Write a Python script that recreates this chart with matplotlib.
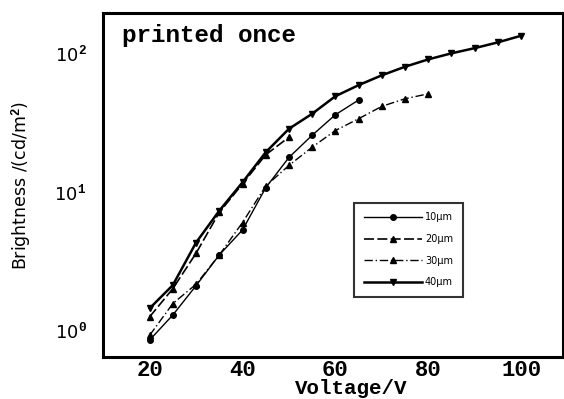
"""Brightness vs voltage for printed-once layers of different thickness."""

import matplotlib

matplotlib.use("Agg")
import matplotlib.pyplot as plt  # noqa: E402

plt.rcParams["mathtext.fontset"] = "custom"
plt.rcParams["mathtext.rm"] = "Liberation Mono:bold"
plt.rcParams["mathtext.it"] = "Liberation Mono:bold"
plt.rcParams["mathtext.bf"] = "Liberation Mono:bold"

# data (V, cd/m^2)
v_10um = [20, 25, 30, 35, 40, 45, 50, 55, 60, 65]
b_10um = [0.85, 1.29, 2.1, 3.5, 5.3, 10.7, 17.7, 25.6, 36, 46]

v_20um = [20, 25, 30, 35, 40, 45, 50]
b_20um = [1.25, 2.0, 3.6, 7.1, 11.4, 18.5, 24.8]

v_30um = [20, 25, 30, 35, 40, 45, 50, 55, 60, 65, 70, 75, 80]
b_30um = [0.92, 1.56, 2.15, 3.5, 6.0, 11.0, 15.5, 21.0, 27.7, 33.7, 41.4, 47.0, 51.0]

v_40um = [20, 25, 30, 35, 40, 45, 50, 55, 60, 65, 70, 75, 80, 85, 90, 95, 100]
b_40um = [1.44, 2.12, 4.3, 7.3, 11.7, 19.3, 28.5, 36.6, 49, 58.9, 69.4, 80,
          90.4, 100, 109, 120, 134]

x_ticks = [20, 40, 60, 80, 100]
y_ticks = [1, 10, 100]
y_tick_labels = ["10$^0$", "10$^1$", "10$^2$"]


def main() -> None:
    fig = plt.figure(figsize=(5.64, 3.99), dpi=100)
    ax = fig.add_axes([0.183, 0.105, 0.815, 0.862])

    ax.plot(v_10um, b_10um, color="black", lw=1.0, ls="-",
            marker="o", ms=4, label="10μm")
    ax.plot(v_20um, b_20um, color="black", lw=1.2, ls=(0, (6, 2)),
            marker="^", ms=4, label="20μm")
    ax.plot(v_30um, b_30um, color="black", lw=1.0, ls=(0, (6, 2, 1, 2)),
            marker="^", ms=4, label="30μm")
    ax.plot(v_40um, b_40um, color="black", lw=1.8, ls="-",
            marker="v", ms=4.5, label="40μm")

    ax.set_yscale("log")
    ax.set_xlim(10, 109)
    ax.set_ylim(0.64, 195)

    ax.set_xticks(x_ticks)
    ax.set_xticklabels([str(t) for t in x_ticks], family="Liberation Mono",
                       fontweight="bold", fontsize=16)
    ax.set_yticks(y_ticks)
    ax.set_yticklabels(y_tick_labels, fontsize=13)
    ax.minorticks_off()
    ax.tick_params(axis="x", length=0, pad=2)
    ax.tick_params(axis="y", length=0, pad=12)

    for sp in ax.spines.values():
        sp.set_linewidth(2.2)

    ax.set_xlabel("Voltage/V", family="Liberation Mono", fontweight="bold",
                  fontsize=15)
    ax.xaxis.set_label_coords(0.54, -0.064)
    ax.set_ylabel("Brightness /(cd/m$^2$)", family="DejaVu Sans",
                  fontsize=12.5)
    ax.yaxis.set_label_coords(-0.15, 0.5)

    ax.text(0.04, 0.915, "printed once", transform=ax.transAxes,
            family="Liberation Mono", fontweight="bold", fontsize=17.5)

    leg = ax.legend(loc="lower left", bbox_to_anchor=(0.535, 0.16),
                    fontsize=7, frameon=True, fancybox=False,
                    edgecolor="black", handlelength=6, borderpad=1.0,
                    labelspacing=1.2, handletextpad=0.3)
    leg.get_frame().set_linewidth(1.5)

    fig.savefig("out.png", dpi=100)
    plt.close(fig)


if __name__ == "__main__":
    main()
